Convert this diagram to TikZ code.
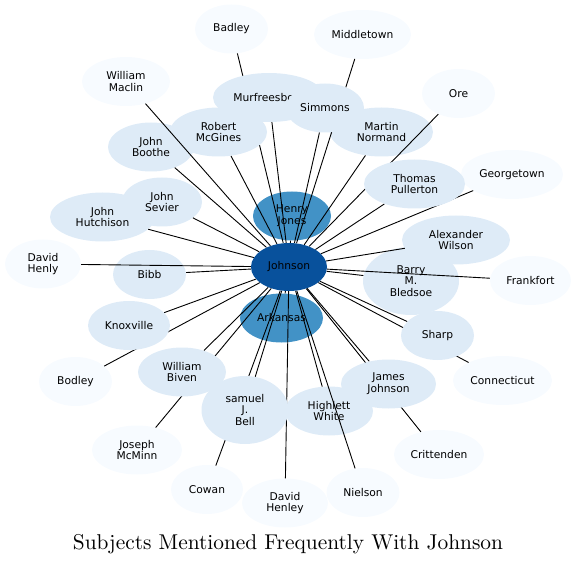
\documentclass[tikz,border=0pt]{standalone}
\usepackage{fontspec}
\setsansfont{DejaVu Sans}
\newfontfamily\titlefont{lmroman10-regular}[Extension=.otf]
\usepackage{tikz}
\usetikzlibrary{shapes.geometric}
\definecolor{paleblue}{HTML}{F7FBFF}
\definecolor{lightblue}{HTML}{DEEBF7}
\definecolor{midblue}{HTML}{4292C6}
\definecolor{deepblue}{HTML}{08519C}
\pgfdeclarelayer{lownodes}
\pgfdeclarelayer{lowlinks}
\pgfdeclarelayer{highnodes}
\pgfdeclarelayer{highlinks}
\pgfsetlayers{lownodes,lowlinks,highnodes,highlinks,main}
\tikzset{
    subj/.style={ellipse,inner sep=0pt,align=center,minimum height=49pt,font=\sffamily\fontsize{10.7}{11.8}\selectfont},
    farsubj/.style={subj,fill=paleblue},
    midsubj/.style={subj,fill=lightblue},
    tiesubj/.style={subj,fill=midblue},
    hubsubj/.style={subj,fill=deepblue,minimum height=48pt},
    tallsubj/.style={minimum height=68pt},
    link/.style={line width=0.9pt}
}

\begin{document}
\begin{tikzpicture}[x=1pt,y=-1pt]
    \useasboundingbox (0,0) rectangle (576,564);
    % outer ring and nodes that lines run over
    \begin{pgfonlayer}{lownodes}
    \node[farsubj,minimum width=73pt] (badley) at (231.5,29) {Badley};
    \node[farsubj,minimum width=97pt] (middle) at (362.5,34.5) {Middletown};
    \node[farsubj,minimum width=88pt] (maclin) at (126,81.5) {William\\Maclin};
    \node[farsubj,minimum width=73pt] (ore) at (458.5,93.5) {Ore};
    \node[farsubj,minimum width=102pt] (george) at (512,174.5) {Georgetown};
    \node[farsubj,minimum width=76pt] (henly) at (43,264) {David\\Henly};
    \node[farsubj,minimum width=81pt] (frank) at (530.5,280.5) {Frankfort};
    \node[farsubj,minimum width=73pt] (bodley) at (75.5,381.5) {Bodley};
    \node[farsubj,minimum width=99pt] (conn) at (502.5,380.5) {Connecticut};
    \node[farsubj,minimum width=90pt] (mcminn) at (137,450) {Joseph\\McMinn};
    \node[farsubj,minimum width=90pt] (critt) at (439,454.5) {Crittenden};
    \node[farsubj,minimum width=72pt] (cowan) at (207,489.5) {Cowan};
    \node[farsubj,minimum width=86pt] (henley) at (285,503) {David\\Henley};
    \node[farsubj,minimum width=73pt] (niel) at (363,492.5) {Nielson};
    \node[midsubj,minimum width=86pt] (boothe) at (151,147) {John\\Boothe};
    \node[midsubj,minimum width=103pt] (normand) at (381.5,132) {Martin\\Normand};
    \node[midsubj,minimum width=105pt] (hutch) at (102.5,217) {John\\Hutchison};
    \node[midsubj,minimum width=80pt] (sevier) at (162,202) {John\\Sevier};
    \node[midsubj,minimum width=108pt] (wilson) at (456,240) {Alexander\\Wilson};
    \node[midsubj,minimum width=73pt] (bibb) at (149.5,274.5) {Bibb};
    \node[midsubj,tallsubj,minimum width=96pt] (bledsoe) at (411,281) {Barry\\M.\\Bledsoe};
    \node[midsubj,minimum width=88pt] (white) at (329,411) {Highlett\\White};
    \node[tiesubj,minimum width=78pt] (hjones) at (292,216) {Henry\\Jones};
    \node[tiesubj,minimum width=83pt] (ark) at (281.5,318) {Arkansas};
    \end{pgfonlayer}
    % nodes that hide lines
    \begin{pgfonlayer}{highnodes}
    \node[midsubj,minimum width=112pt] (murf) at (269,97.5) {Murfreesboro};
    \node[midsubj,minimum width=97pt] (mcgines) at (218.5,132) {Robert\\McGines};
    \node[midsubj,minimum width=78pt] (simmons) at (325,108) {Simmons};
    \node[midsubj,minimum width=101pt] (pullert) at (414.5,184) {Thomas\\Pullerton};
    \node[midsubj,minimum width=82pt] (knox) at (129,325.5) {Knoxville};
    \node[midsubj,minimum width=88pt] (biven) at (182,372) {William\\Biven};
    \node[midsubj,tallsubj,minimum width=87pt] (bell) at (245,410) {samuel\\J.\\Bell};
    \node[midsubj,minimum width=95pt] (jjohnson) at (388.5,384) {James\\Johnson};
    \node[midsubj,minimum width=73pt] (sharp) at (437.5,335.5) {Sharp};
    \end{pgfonlayer}
    \node[hubsubj,minimum width=76pt] (johnson) at (289,267) {Johnson};
    % links
    \begin{pgfonlayer}{lowlinks}
    \draw[link] (johnson)--(badley);
    \draw[link] (johnson)--(middle);
    \draw[link] (johnson)--(ore);
    \draw[link] (johnson)--(george);
    \draw[link] (johnson)--(henly);
    \draw[link] (johnson)--(frank);
    \draw[link] (johnson)--(bodley);
    \draw[link] (johnson)--(conn);
    \draw[link] (johnson)--(mcminn);
    \draw[link] (johnson)--(critt);
    \draw[link] (johnson)--(cowan);
    \draw[link] (johnson)--(henley);
    \draw[link] (johnson)--(niel);
    \draw[link] (johnson)--(boothe);
    \draw[link] (johnson)--(normand);
    \draw[link] (johnson)--(hutch);
    \draw[link] (johnson)--(sevier);
    \draw[link] (johnson)--(wilson);
    \draw[link] (johnson)--(bibb);
    \draw[link] (johnson)--(bledsoe);
    \draw[link] (johnson)--(white);
    \draw[link] (johnson)--(hjones);
    \draw[link] (johnson)--(ark);
    \draw[link] (johnson)--(murf);
    \draw[link] (johnson)--(mcgines);
    \draw[link] (johnson)--(simmons);
    \draw[link] (johnson)--(pullert);
    \draw[link] (johnson)--(knox);
    \draw[link] (johnson)--(biven);
    \draw[link] (johnson)--(bell);
    \draw[link] (johnson)--(jjohnson);
    \draw[link] (johnson)--(sharp);
    \end{pgfonlayer}
    \begin{pgfonlayer}{highlinks}
    \draw[link] (johnson)--(maclin);
    \end{pgfonlayer}
    \node[font=\titlefont\fontsize{21.4}{25}\selectfont,anchor=base] (title) at (288,549) {Subjects Mentioned Frequently With Johnson};
\end{tikzpicture}
\end{document}
